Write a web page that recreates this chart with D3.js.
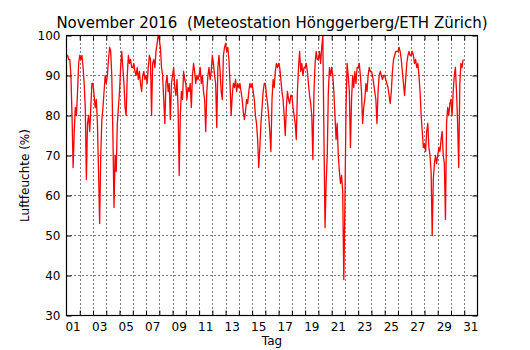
<!DOCTYPE html>
<html>
<head>
<meta charset="utf-8">
<script src="https://cdn.jsdelivr.net/npm/d3@7"></script>
<style>
  body { margin: 0; background: #fff; }
  text { font-family: "DejaVu Sans", sans-serif; }
</style>
</head>
<body>
<div id="vis"></div>
<script>
// November 2016 humidity, Hoenggerberg, one row per day, 2 hour steps
var dayLabels = d3.range(1, 32).map(function (d) { return d < 10 ? "0" + d : "" + d; });
var yTicks = [30, 40, 50, 60, 70, 80, 90, 100];
var stepsPerDay = 12;

var humidity = [
  [95, 95, 94, 94, 90, 80, 67, 76, 82, 80, 86, 93],  // 01
  [95, 94, 95, 92, 88, 82, 64, 78, 80, 76, 82, 88],  // 02
  [88, 85, 82, 84, 78, 66, 53, 70, 79, 82, 86, 90],  // 03
  [88, 90, 94, 97, 96, 90, 75, 57, 70, 66, 78, 82],  // 04
  [86, 92, 96, 92, 88, 82, 80, 90, 95, 93, 94, 92],  // 05
  [92, 93, 91, 90, 92, 89, 91, 88, 86, 90, 91, 89],  // 06
  [90, 88, 92, 95, 94, 80, 93, 94, 92, 96, 98, 100], // 07
  [99, 97, 92, 90, 84, 78, 88, 90, 86, 88, 79, 88],  // 08
  [90, 92, 87, 85, 89, 82, 65, 80, 86, 84, 91, 89],  // 09
  [88, 84, 87, 86, 88, 82, 90, 93, 91, 88, 90, 89],  // 10
  [90, 92, 88, 90, 86, 84, 76, 86, 90, 92, 89, 91],  // 11
  [95, 93, 90, 88, 77, 92, 95, 91, 86, 84, 95, 97],  // 12
  [98, 96, 97, 94, 88, 80, 85, 88, 87, 89, 86, 88],  // 13
  [87, 88, 86, 84, 81, 79, 81, 84, 83, 86, 88, 87],  // 14
  [88, 86, 84, 80, 78, 74, 67, 72, 78, 82, 86, 88],  // 15
  [88, 85, 83, 80, 76, 71, 84, 89, 87, 91, 93, 92],  // 16
  [93, 92, 89, 86, 84, 80, 75, 82, 86, 84, 83, 85],  // 17
  [85, 82, 80, 78, 74, 86, 92, 96, 91, 93, 90, 92],  // 18
  [92, 93, 91, 88, 85, 83, 80, 69, 86, 93, 96, 94],  // 19
  [94, 96, 93, 97, 100, 75, 52, 63, 70, 86, 92, 90], // 20
  [92, 90, 86, 80, 74, 78, 70, 66, 63, 65, 61, 39],  // 21
  [58, 82, 93, 90, 86, 72, 84, 90, 87, 91, 88, 92],  // 22
  [92, 93, 90, 86, 78, 82, 84, 88, 86, 90, 92, 91],  // 23
  [91, 90, 88, 86, 84, 78, 86, 90, 91, 90, 89, 90],  // 24
  [90, 89, 88, 87, 85, 83, 86, 91, 94, 95, 96, 96],  // 25
  [96, 97, 96, 94, 91, 88, 85, 89, 93, 95, 96, 95],  // 26
  [95, 96, 95, 93, 94, 92, 93, 90, 86, 80, 76, 72],  // 27
  [73, 71, 76, 78, 72, 70, 66, 50, 64, 68, 70, 68],  // 28
  [70, 72, 71, 74, 76, 70, 68, 54, 78, 82, 80, 83],  // 29
  [84, 80, 86, 90, 92, 86, 78, 67, 88, 93, 92, 94]   // 30
];

var points = [];
humidity.forEach(function (row, i) {
  row.forEach(function (v, j) {
    points.push({ t: i + j / stepsPerDay, v: v });
  });
});

var w = 530;
var h = 350;
var plotL = 66.5, plotR = 477.5, plotT = 35.5, plotB = 315.5;

var svg = d3.select("#vis").append("svg").attr("width", w).attr("height", h);

var x = d3.scaleLinear().domain([0, 31]).range([plotL, plotR]);
var y = d3.scaleLinear().domain([30, 100]).range([plotB, plotT]);

var boundaries = d3.range(1, 31);

// grid
svg.append("g")
  .selectAll("line")
  .data(boundaries)
  .enter()
  .append("line")
  .attr("x1", function (d) { return Math.round(x(d)) + 0.5; })
  .attr("x2", function (d) { return Math.round(x(d)) + 0.5; })
  .attr("y1", plotT)
  .attr("y2", plotB)
  .attr("stroke", "#000")
  .attr("stroke-width", 1)
  .attr("stroke-dasharray", "1,3");

svg.append("g")
  .selectAll("line")
  .data(yTicks.slice(1, -1))
  .enter()
  .append("line")
  .attr("x1", plotL)
  .attr("x2", plotR)
  .attr("y1", function (d) { return y(d); })
  .attr("y2", function (d) { return y(d); })
  .attr("stroke", "#000")
  .attr("stroke-width", 1)
  .attr("stroke-dasharray", "1,3");

// humidity line
var line = d3.line()
  .x(function (d) { return x(d.t); })
  .y(function (d) { return y(d.v); });

svg.append("path")
  .datum(points)
  .attr("d", line)
  .attr("fill", "none")
  .attr("stroke", "#ff0000")
  .attr("stroke-width", 1.3)
  .attr("stroke-linejoin", "round");

// axes, ticks pointing inward like the original
var xBottom = d3.axisBottom(x).tickValues(boundaries).tickSize(-5).tickFormat("");
var xTop = d3.axisTop(x).tickValues(boundaries).tickSize(-5).tickFormat("");
var yLeft = d3.axisLeft(y).tickValues(yTicks).tickSize(-5).tickFormat("");
var yRight = d3.axisRight(y).tickValues(yTicks).tickSize(-5).tickFormat("");

svg.append("g").attr("transform", "translate(0," + plotB + ")").call(xBottom);
svg.append("g").attr("transform", "translate(0," + plotT + ")").call(xTop);
svg.append("g").attr("transform", "translate(" + plotL + ",0)").call(yLeft);
svg.append("g").attr("transform", "translate(" + plotR + ",0)").call(yRight);
svg.selectAll(".domain").remove();
svg.selectAll(".tick line").attr("stroke", "#000");

svg.append("rect")
  .attr("x", plotL)
  .attr("y", plotT)
  .attr("width", plotR - plotL)
  .attr("height", plotB - plotT)
  .attr("fill", "none")
  .attr("stroke", "#000")
  .attr("stroke-width", 1.2);

// tick labels
svg.append("g")
  .selectAll("text")
  .data(dayLabels.filter(function (d, i) { return i % 2 == 0; }))
  .enter()
  .append("text")
  .attr("x", function (d) { return x(+d - 0.5); })
  .attr("y", 331)
  .attr("text-anchor", "middle")
  .attr("font-size", 12)
  .text(function (d) { return d; });

svg.append("g")
  .selectAll("text")
  .data(yTicks)
  .enter()
  .append("text")
  .attr("x", plotL - 6)
  .attr("y", function (d) { return y(d) + 4.5; })
  .attr("text-anchor", "end")
  .attr("font-size", 12)
  .text(function (d) { return d; });

svg.append("text")
  .attr("x", (plotL + plotR) / 2)
  .attr("y", 345)
  .attr("text-anchor", "middle")
  .attr("font-size", 12)
  .text("Tag");

svg.append("text")
  .attr("transform", "translate(29," + (plotT + plotB) / 2 + ") rotate(-90)")
  .attr("text-anchor", "middle")
  .attr("font-size", 12)
  .text("Luftfeuchte (%)");

svg.append("text")
  .attr("x", (plotL + plotR) / 2)
  .attr("y", 28)
  .attr("text-anchor", "middle")
  .attr("font-size", 15)
  .style("white-space", "pre")
  .text("November 2016  (Meteostation Hönggerberg/ETH Zürich)");
</script>
</body>
</html>
